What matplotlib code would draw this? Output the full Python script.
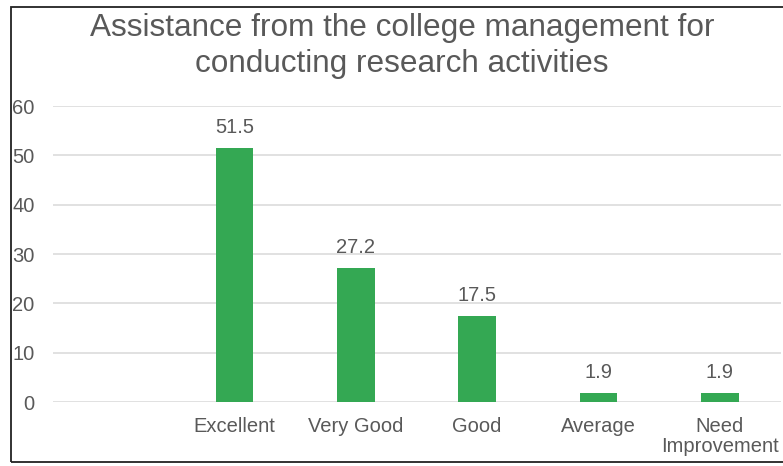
import matplotlib.pyplot as plt
from matplotlib.patches import Rectangle

# ---------------- data ----------------
categories = ['', 'Excellent', 'Very Good', 'Good', 'Average', 'Need\nImprovement']
values = [0, 51.5, 27.2, 17.5, 1.9, 1.9]
labels = ['', '51.5', '27.2', '17.5', '1.9', '1.9']
yticks = [0, 10, 20, 30, 40, 50, 60]

plt.rcParams['font.family'] = ['Liberation Sans', 'DejaVu Sans']
grey = '#595959'

fig = plt.figure(figsize=(7.83, 4.66), dpi=100)
ax = fig.add_axes([52.5/783, 64/466, 728/783, 296/466])

x = list(range(len(categories)))
bars = ax.bar(x, values, width=0.31, color='#34A853', zorder=3)
for b, lab in zip(bars, labels):
    if lab:
        ax.annotate(lab, (b.get_x() + b.get_width()/2, b.get_height()),
                    xytext=(0, 8), textcoords='offset points',
                    ha='center', va='bottom', fontsize=14.5, color=grey)

ax.set_xlim(-0.5, len(categories) - 0.5)
ax.set_ylim(0, 60)
ax.set_yticks(yticks)
ax.set_xticks(x)
ax.set_xticklabels(categories, linespacing=1.05)
ax.tick_params(axis='y', length=0, pad=13, labelsize=14.5, labelcolor=grey)
ax.tick_params(axis='x', length=0, pad=11, labelsize=14.5, labelcolor=grey)
ax.grid(axis='y', color='#D9D9D9', linewidth=1.1, zorder=0)
for s in ax.spines.values():
    s.set_visible(False)

fig.text(402/783, 1 - 46/466, 'Assistance from the college management for\nconducting research activities',
         ha='center', va='center', fontsize=22.7, color=grey, linespacing=1.3)

# screenshot frame
fig.patches.append(Rectangle((11/783, 4/466), 1.0, 455/466, transform=fig.transFigure,
                             fill=False, edgecolor='#222222', linewidth=1.3))

fig.savefig('out.png', dpi=100)
